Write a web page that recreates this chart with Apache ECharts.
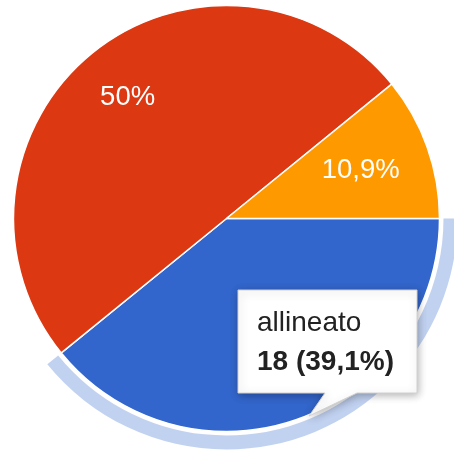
<!DOCTYPE html>
<html>
<head>
<meta charset="utf-8">
<script src="https://cdn.jsdelivr.net/npm/echarts@6/dist/echarts.min.js"></script>
<style>
html,body{margin:0;padding:0;background:#fff;}
#chart{width:454px;height:452px;}
</style>
</head>
<body>
<div id="chart"></div>
<script>
const categories = ['allineato', 'non allineato', 'parzialmente allineato'];
const values = [18, 23, 5];
const colors = ['#3366cc', '#dc3912', '#ff9900'];
const highlightIndex = 0;

const total = values.reduce((a, b) => a + b, 0);
function pctText(v) {
  let s = (v / total * 100).toFixed(1);
  if (s.endsWith('.0')) s = s.slice(0, -2);
  return s.replace('.', ',') + '%';
}

const CX = 226.5, CY = 218.5, R = 213;
const FONT = 'Liberation Sans, Arial, sans-serif';
const LABEL_SIZE = 27.5;

// mid-angle (clockwise from 3 o'clock, radians) for label placement
function midAngle(i) {
  let before = 0;
  for (let k = 0; k < i; k++) before += values[k];
  return (before + values[i] / 2) / total * 2 * Math.PI;
}

const chart = echarts.init(document.getElementById('chart'), null, { renderer: 'canvas' });

const hl = highlightIndex;
const tipLines = [categories[hl], values[hl] + ' (' + pctText(values[hl]) + ')'];

chart.setOption({
  animation: false,
  series: [
    {
      type: 'pie',
      silent: true,
      center: [CX, CY],
      radius: [0, R],
      startAngle: 0,
      clockwise: true,
      avoidLabelOverlap: false,
      itemStyle: { borderColor: '#ffffff', borderWidth: 1.5 },
      label: {
        show: true,
        position: 'inside',
        color: '#ffffff',
        fontSize: LABEL_SIZE,
        fontFamily: FONT,
        formatter: p => pctText(p.value)
      },
      labelLine: { show: false },
      labelLayout: function (params) {
        const a = midAngle(params.dataIndex);
        const c = Math.abs(Math.cos(a)), s = Math.abs(Math.sin(a));
        const hw = params.labelRect.width / 2, hh = LABEL_SIZE * 0.37;
        const D = R * 0.857;
        const b = hw * c + hh * s;
        const r = -b + Math.sqrt(b * b - (hw * hw + hh * hh - D * D));
        return { x: CX + r * Math.cos(a), y: CY + r * Math.sin(a), align: 'center', verticalAlign: 'middle' };
      },
      data: categories.map((c, i) => ({
        name: c, value: values[i], itemStyle: { color: colors[i] },
        label: { show: i !== hl }
      }))
    },
    {
      type: 'pie',
      silent: true,
      center: [CX, CY],
      radius: [217, 231],
      startAngle: 0,
      clockwise: true,
      label: { show: false },
      labelLine: { show: false },
      itemStyle: { borderWidth: 0 },
      data: categories.map((c, i) => ({
        name: c, value: values[i],
        itemStyle: { color: i === hl ? 'rgba(51,102,204,0.3)' : 'rgba(0,0,0,0)' }
      }))
    }
  ],
  graphic: [
    {
      type: 'polygon',
      z: 100,
      shape: { points: [[238, 290], [417, 290], [417, 393], [357, 393], [309, 416], [325, 393], [238, 393]] },
      style: {
        fill: '#ffffff', stroke: '#d0d0d0', lineWidth: 1,
        shadowBlur: 8, shadowColor: 'rgba(0,0,0,0.3)', shadowOffsetX: 1, shadowOffsetY: 2
      }
    },
    {
      type: 'text',
      z: 101,
      x: 257, y: 309,
      style: { text: tipLines[0], fill: '#222222', fontSize: 28, fontFamily: FONT }
    },
    {
      type: 'text',
      z: 101,
      x: 257, y: 348,
      style: { text: tipLines[1], fill: '#222222', fontSize: 28, fontWeight: 'bold', fontFamily: FONT }
    }
  ]
});
</script>
</body>
</html>
